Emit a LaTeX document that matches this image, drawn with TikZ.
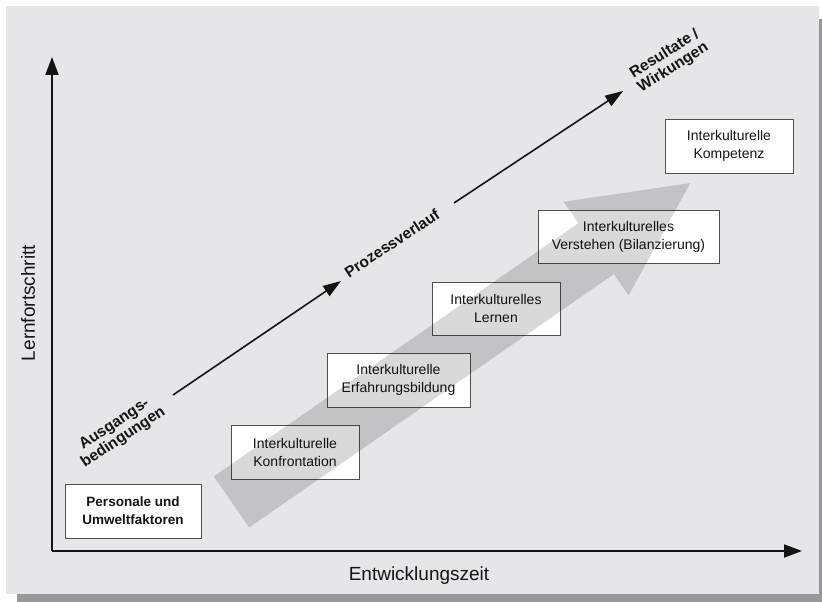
\documentclass[tikz,border=0pt]{standalone}
\usepackage{fontspec}
\setmainfont{Liberation Sans}
\usetikzlibrary{arrows.meta}
\definecolor{bgcol}{RGB}{230,230,232}
\definecolor{shadowcol}{RGB}{152,152,154}
\definecolor{ink}{RGB}{20,20,20}
\definecolor{boxline}{RGB}{80,80,80}
\tikzset{
  stagebox/.style={draw=boxline, line width=0.9pt, fill=white, align=center,
    inner sep=0pt, font=\fontsize{14}{18}\selectfont, text=ink},
  axisline/.style={draw=ink, line width=2pt, -{Triangle[length=18pt,width=13pt]}},
  diagline/.style={draw=ink, line width=1.6pt, -{Triangle[length=18pt,width=12pt]}},
  difflabel/.style={font=\fontsize{15.5}{16}\selectfont\bfseries, text=ink, align=center, inner sep=0pt},
  axislabel/.style={font=\fontsize{19}{22}\selectfont, text=ink, inner sep=0pt},
}
\begin{document}
\begin{tikzpicture}[x=1pt,y=-1pt]
\useasboundingbox (0,0) rectangle (822,602);
% background with shadow
\fill[shadowcol] (17,19) rectangle (835,610);
\fill[bgcol] (6,6) rectangle (819,594);

% axes
\coordinate (origin) at (52,551);
\coordinate (ytop) at (52,57);
\coordinate (xend) at (802,551);
\draw[axisline] (origin) -- (ytop);
\draw[axisline] (origin) -- (xend);
\node[axislabel, rotate=90] (ylab) at (28,303) {Lernfortschritt};
\node[axislabel] (xlab) at (419,576) {Entwicklungszeit};

% diagonal process line
\coordinate (a1) at (173,395);
\coordinate (t1) at (341,281);
\coordinate (a2) at (454,203);
\coordinate (t2) at (623,91);
\draw[diagline] (a1) -- (t1);
\draw[diagline] (a2) -- (t2);
\node[difflabel, rotate=33.5] (ausg) at (119,431) {Ausgangs-\\bedingungen};
\node[difflabel, rotate=33.5] (proz) at (392,243) {Prozessverlauf};
\node[difflabel, rotate=32] (resu) at (669,61) {Resultate /\\Wirkungen};

% stage boxes
\node[stagebox, minimum width=136pt, minimum height=54pt, font=\fontsize{13.5}{18}\selectfont\bfseries] (pers) at (133,511) {Personale und\\Umweltfaktoren};
\node[stagebox, minimum width=128pt, minimum height=54pt] (konf) at (295,452) {Interkulturelle\\Konfrontation};
\node[stagebox, minimum width=143pt, minimum height=54pt] (erf) at (398.5,380) {Interkulturelle\\Erfahrungsbildung};
\node[stagebox, minimum width=128pt, minimum height=53pt] (lern) at (496,308.5) {Interkulturelles\\Lernen};
\node[stagebox, minimum width=181pt, minimum height=53pt] (vers) at (628.5,236.5) {Interkulturelles\\Verstehen (Bilanzierung)};
\node[stagebox, minimum width=128pt, minimum height=54pt] (komp) at (729,146) {Interkulturelle\\Kompetenz};

% big translucent arrow
\fill[black, opacity=0.15] (213.8,476.5) -- (578.4,223.1) -- (563.6,201.8) -- (690.3,183.1)
  -- (628.6,295.4) -- (613.8,274.1) -- (249.2,527.5) -- cycle;
\end{tikzpicture}
\end{document}
